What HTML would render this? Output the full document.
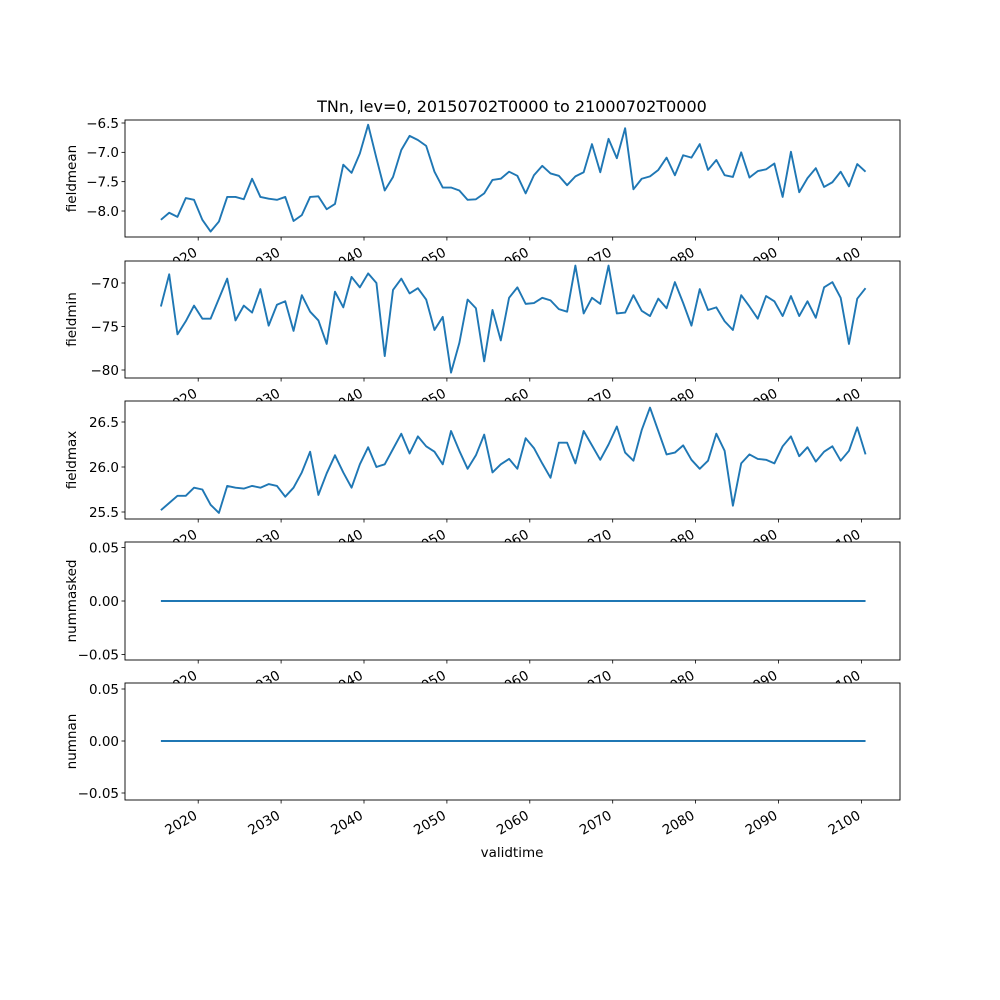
<!DOCTYPE html>
<html><head><meta charset="utf-8"><style>
html,body{margin:0;padding:0;background:#fff;}
svg{display:block;font-family:"DejaVu Sans","Liberation Sans",sans-serif;}
</style></head><body>
<svg id="chart" width="1000" height="1000" viewBox="0 0 1000 1000" xmlns="http://www.w3.org/2000/svg">
<rect width="1000" height="1000" fill="#fff"/>
<text x="512" y="112" font-size="16" text-anchor="middle">TNn, lev=0, 20150702T0000 to 21000702T0000</text>
<text x="512" y="857" font-size="13.5" text-anchor="middle">validtime</text>
</svg>
<script>
const startYear = 2015.5;
const fieldmean = [-8.15,-8.03,-8.10,-7.78,-7.81,-8.15,-8.35,-8.18,-7.76,-7.76,-7.80,-7.45,-7.76,-7.79,-7.81,-7.76,-8.17,-8.07,-7.76,-7.75,-7.97,-7.88,-7.21,-7.35,-7.02,-6.53,-7.10,-7.65,-7.42,-6.96,-6.72,-6.79,-6.89,-7.33,-7.60,-7.60,-7.65,-7.81,-7.80,-7.70,-7.47,-7.45,-7.33,-7.40,-7.70,-7.39,-7.23,-7.36,-7.40,-7.56,-7.41,-7.34,-6.86,-7.34,-6.77,-7.10,-6.59,-7.63,-7.45,-7.41,-7.30,-7.09,-7.39,-7.05,-7.09,-6.86,-7.30,-7.13,-7.39,-7.42,-7.00,-7.43,-7.32,-7.29,-7.19,-7.76,-6.99,-7.68,-7.44,-7.27,-7.59,-7.51,-7.33,-7.58,-7.20,-7.33];
const fieldmin = [-72.7,-69.0,-75.9,-74.4,-72.6,-74.1,-74.1,-71.8,-69.5,-74.3,-72.6,-73.4,-70.7,-74.9,-72.5,-72.1,-75.5,-71.4,-73.3,-74.3,-77.0,-71.0,-72.8,-69.3,-70.5,-68.9,-70.0,-78.4,-70.8,-69.5,-71.2,-70.6,-71.9,-75.4,-73.9,-80.3,-76.9,-71.9,-72.9,-79.0,-73.1,-76.6,-71.7,-70.5,-72.4,-72.3,-71.7,-72.0,-73.0,-73.3,-68.0,-73.5,-71.7,-72.4,-68.0,-73.5,-73.4,-71.4,-73.2,-73.8,-71.8,-72.9,-69.9,-72.3,-74.9,-70.7,-73.1,-72.8,-74.4,-75.4,-71.4,-72.7,-74.1,-71.5,-72.1,-73.8,-71.5,-73.8,-72.1,-74.0,-70.5,-69.9,-71.7,-77.0,-71.8,-70.6];
const fieldmax = [25.52,25.60,25.68,25.68,25.77,25.75,25.58,25.49,25.79,25.77,25.76,25.79,25.77,25.81,25.79,25.67,25.77,25.94,26.17,25.69,25.93,26.13,25.94,25.77,26.03,26.22,26.00,26.03,26.20,26.37,26.15,26.34,26.23,26.17,26.03,26.40,26.18,25.98,26.13,26.36,25.94,26.03,26.09,25.98,26.32,26.21,26.04,25.88,26.27,26.27,26.04,26.40,26.24,26.08,26.25,26.45,26.16,26.07,26.41,26.66,26.40,26.14,26.16,26.24,26.08,25.98,26.07,26.37,26.18,25.57,26.04,26.14,26.09,26.08,26.04,26.23,26.34,26.12,26.22,26.06,26.17,26.23,26.07,26.18,26.44,26.14];
const nummasked = new Array(86).fill(0);
const numnan = new Array(86).fill(0);
const xTickYears = [2020,2030,2040,2050,2060,2070,2080,2090,2100];
const xTickLabels = ["2020","2030","2040","2050","2060","2070","2080","2090","2100"];
const ticks1 = [-6.5,-7.0,-7.5,-8.0], tickLabels1 = ["−6.5","−7.0","−7.5","−8.0"];
const ticks2 = [-70,-75,-80], tickLabels2 = ["−70","−75","−80"];
const ticks3 = [26.5,26.0,25.5], tickLabels3 = ["26.5","26.0","25.5"];
const ticks0 = [0.05,0,-0.05], tickLabels0 = ["0.05","0.00","−0.05"];

const NS = "http://www.w3.org/2000/svg";
const svg = document.getElementById('chart');
const L = 125, R = 900;
function xs(yr){ return 198.2 + (yr - 2020) * 8.29; }
function mk(tag, attrs, parent){ const e = document.createElementNS(NS, tag); for (const k in attrs) e.setAttribute(k, attrs[k]); (parent||svg).appendChild(e); return e; }

const panels = [
  {name:'fieldmean', data:fieldmean, top:120, bot:237, y:v=>123+(-6.5-v)*58.67, ticks:ticks1, labels:tickLabels1},
  {name:'fieldmin', data:fieldmin, top:261, bot:378, y:v=>283+(-70-v)*8.7, ticks:ticks2, labels:tickLabels2},
  {name:'fieldmax', data:fieldmax, top:401, bot:519, y:v=>422+(26.5-v)*90, ticks:ticks3, labels:tickLabels3},
  {name:'nummasked', data:nummasked, top:542, bot:660, y:v=>601-v*1070, ticks:ticks0, labels:tickLabels0},
  {name:'numnan', data:numnan, top:683, bot:800, y:v=>741-v*1040, ticks:ticks0, labels:tickLabels0}
];
panels.forEach(p => {
  const g = mk('g', {});
  
  
  const bg = mk('rect', {x:L, y:p.top, width:R-L, height:p.bot-p.top, fill:'#fff'}, g);
  
  
  let d = '';
  p.data.forEach((v,i) => { d += (i?'L':'M') + xs(startYear+i).toFixed(2) + ' ' + p.y(v).toFixed(2); });
  const line = mk('path', {d:d, fill:'none', stroke:'#1f77b4', 'stroke-width':1.9, 'stroke-linejoin':'round'}, g);
  
  
  const fr = mk('rect', {x:L, y:p.top, width:R-L, height:p.bot-p.top, fill:'none', stroke:'#000', 'stroke-width':0.9}, g);
  
  
  p.ticks.forEach((t,i) => {
    const yy = p.y(t);
    mk('line', {x1:L-3.5, x2:L, y1:yy, y2:yy, stroke:'#000', 'stroke-width':0.8}, g);
    const tl = mk('text', {x:L-6, y:yy+4.8, 'font-size':13.5, 'text-anchor':'end'}, g);
    tl.textContent = p.labels[i];
    
    
  });
  xTickYears.forEach((yr,i) => {
    const xx = xs(yr);
    mk('line', {x1:xx, x2:xx, y1:p.bot, y2:p.bot+3.5, stroke:'#000', 'stroke-width':0.8}, g);
    const ax = xx, ay = p.bot + 18;
    const xl = mk('text', {x:ax, y:ay, 'font-size':13.5, 'text-anchor':'end', transform:'rotate(-30 '+ax+' '+ay+')'}, g);
    xl.textContent = xTickLabels[i];
    
    
  });
  const cy = (p.top + p.bot) / 2;
  const yt = mk('text', {x:76, y:cy, 'font-size':13.5, 'text-anchor':'middle', transform:'rotate(-90 76 '+cy+')'}, g);
  yt.textContent = p.name;
  
  
});
</script>
</body></html>
